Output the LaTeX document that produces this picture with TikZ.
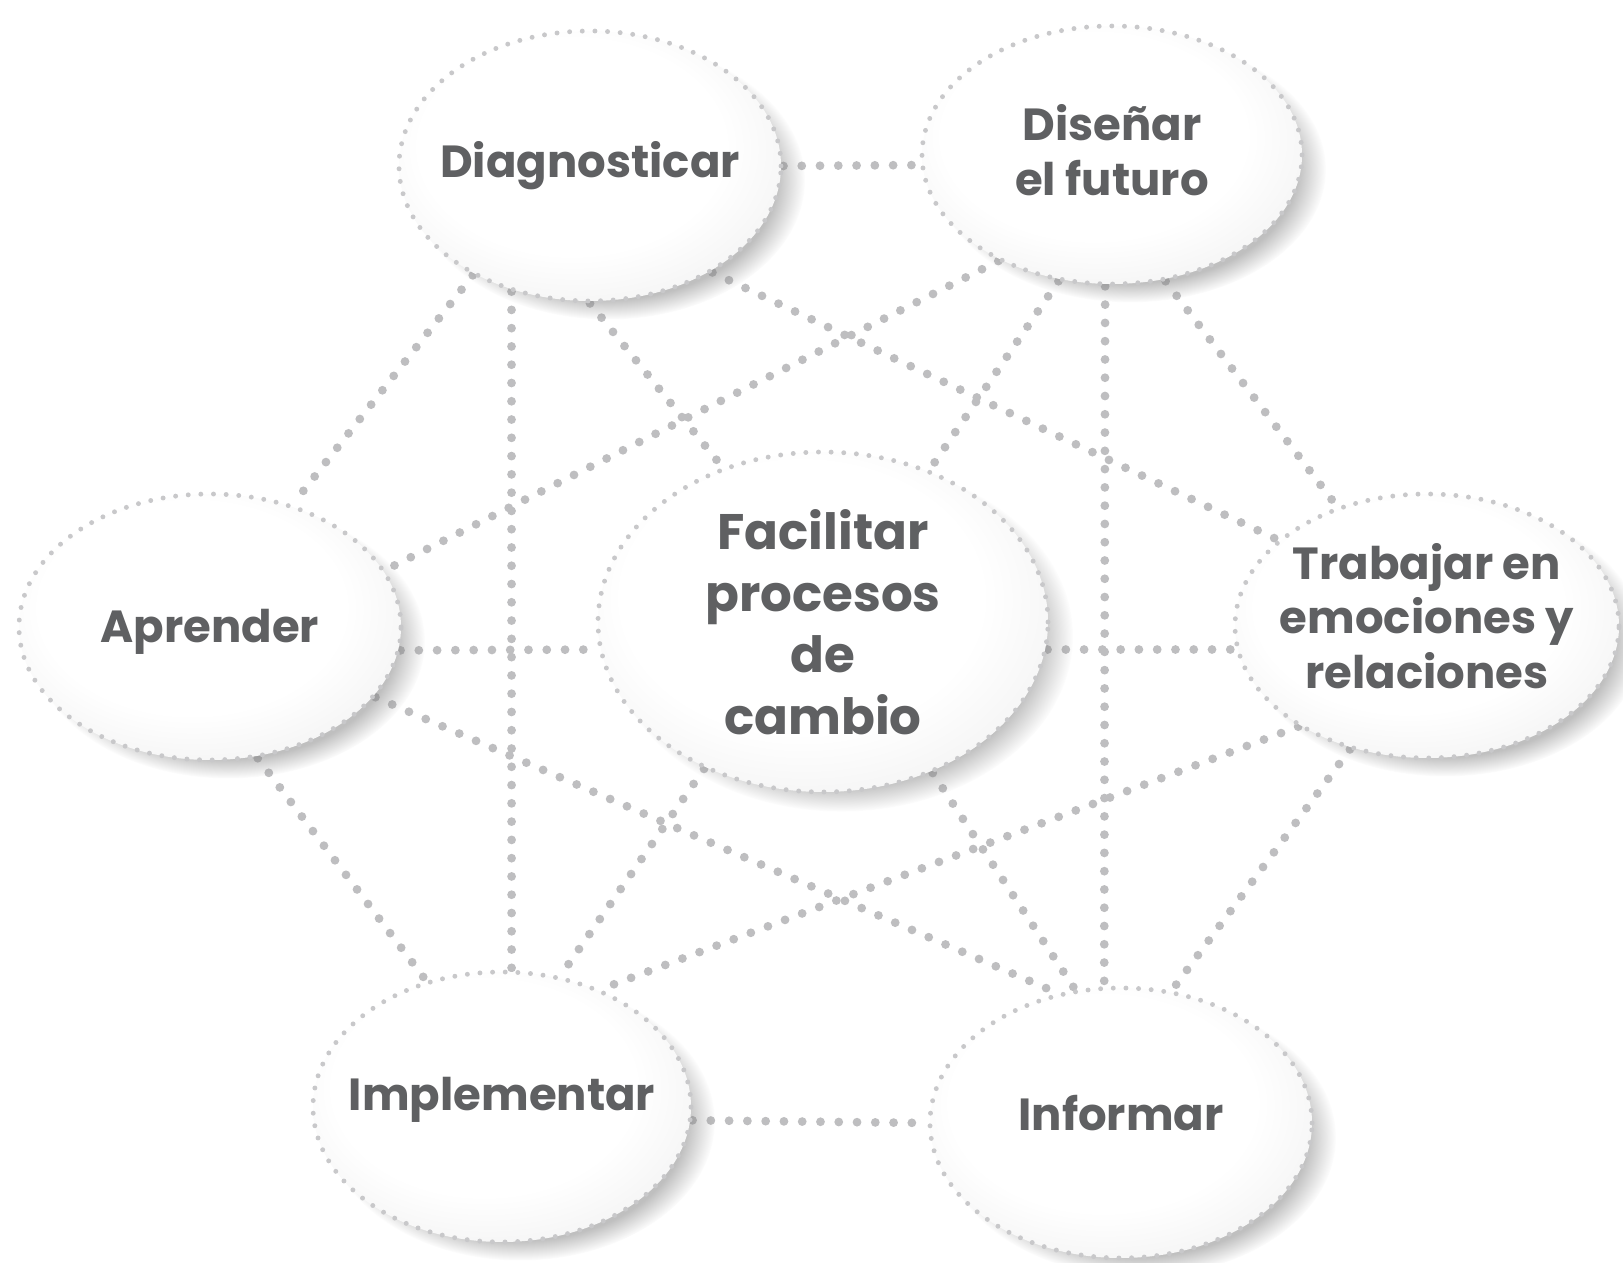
\documentclass[tikz,border=0pt]{standalone}
\usepackage{fontspec}
\setmainfont{Poppins}
\usetikzlibrary{shapes.geometric,shadows,backgrounds}

\definecolor{textgray}{RGB}{95,96,98}
\definecolor{dotgray}{RGB}{190,190,192}
\definecolor{rimgray}{RGB}{200,200,202}

\pgfdeclareradialshading{bubbleshade}{\pgfpoint{-4bp}{6bp}}{color(0bp)=(white); color(20bp)=(white); color(50bp)=(black!13)}

\tikzset{
  bubble/.style={ellipse, draw=rimgray, line width=1.4pt,
    dash pattern=on 0pt off 3.6pt, line cap=round,
    shading=bubbleshade, inner sep=0pt,
    circular drop shadow={shadow xshift=5pt, shadow yshift=-4pt,
      shadow scale=1.03, opacity=.5, fill=black!50}},
  words/.style={text=textgray, align=center,
    font=\bfseries\fontsize{12.8}{15.6}\selectfont},
  bigwords/.style={words, font=\bfseries\fontsize{14.2}{17.5}\selectfont},
  link/.style={dotgray, line width=2.5pt, dash pattern=on 0pt off 5.2pt,
    line cap=round}
}

\begin{document}
\begin{tikzpicture}

\useasboundingbox (0,0) rectangle (16.23,12.62);

% the seven bubbles
\node[bubble, minimum width=3.82cm, minimum height=2.70cm,
  label={[words]center:Diagnosticar}] (diag) at (5.90,10.96) {};
\node[bubble, minimum width=3.80cm, minimum height=2.58cm,
  label={[words,yshift=.5mm]center:{Diseñar\\el futuro}}] (disenar) at (11.12,11.07) {};
\node[bubble, minimum width=3.82cm, minimum height=2.66cm,
  label={[words,yshift=-.5mm]center:Aprender}] (aprender) at (2.10,6.35) {};
\node[bubble, minimum width=4.50cm, minimum height=3.40cm,
  label={[bigwords]center:{Facilitar\\procesos\\de\\cambio}}] (facil) at (8.23,6.40) {};
\node[bubble, minimum width=3.84cm, minimum height=2.64cm,
  label={[words,yshift=1mm]center:{Trabajar en\\emociones y\\relaciones}}] (trabajar) at (14.27,6.36) {};
\node[bubble, minimum width=3.78cm, minimum height=2.70cm,
  label={[words,yshift=.7mm]center:Implementar}] (implem) at (5.02,1.55) {};
\node[bubble, minimum width=3.82cm, minimum height=2.70cm,
  label={[words,yshift=1mm]center:Informar}] (informar) at (11.21,1.39) {};

% dotted links
\begin{scope}[on background layer]
\draw[link] (diag.0) -- (disenar.183);
\draw[link] (implem.-4) -- (informar.180);
\draw[link] (aprender.-7) -- (facil.187);
\draw[link] (facil.-7) -- (trabajar.187);
\draw[link] (diag.223) -- (aprender.56);
\draw[link] (diag.238) -- (implem.86);
\draw[link] (diag.270) -- (facil.123);
\draw[link] (diag.-41) -- (trabajar.150);
\draw[link] (disenar.223) -- (aprender.18);
\draw[link] (disenar.247) -- (facil.55);
\draw[link] (disenar.267) -- (informar.97);
\draw[link] (disenar.-67) -- (trabajar.127);
\draw[link] (aprender.-70) -- (implem.121);
\draw[link] (aprender.-23) -- (informar.116);
\draw[link] (facil.231) -- (implem.66);
\draw[link] (facil.-54) -- (informar.109);
\draw[link] (trabajar.218) -- (implem.50);
\draw[link] (trabajar.238) -- (informar.69);
\end{scope}

\end{tikzpicture}
\end{document}
